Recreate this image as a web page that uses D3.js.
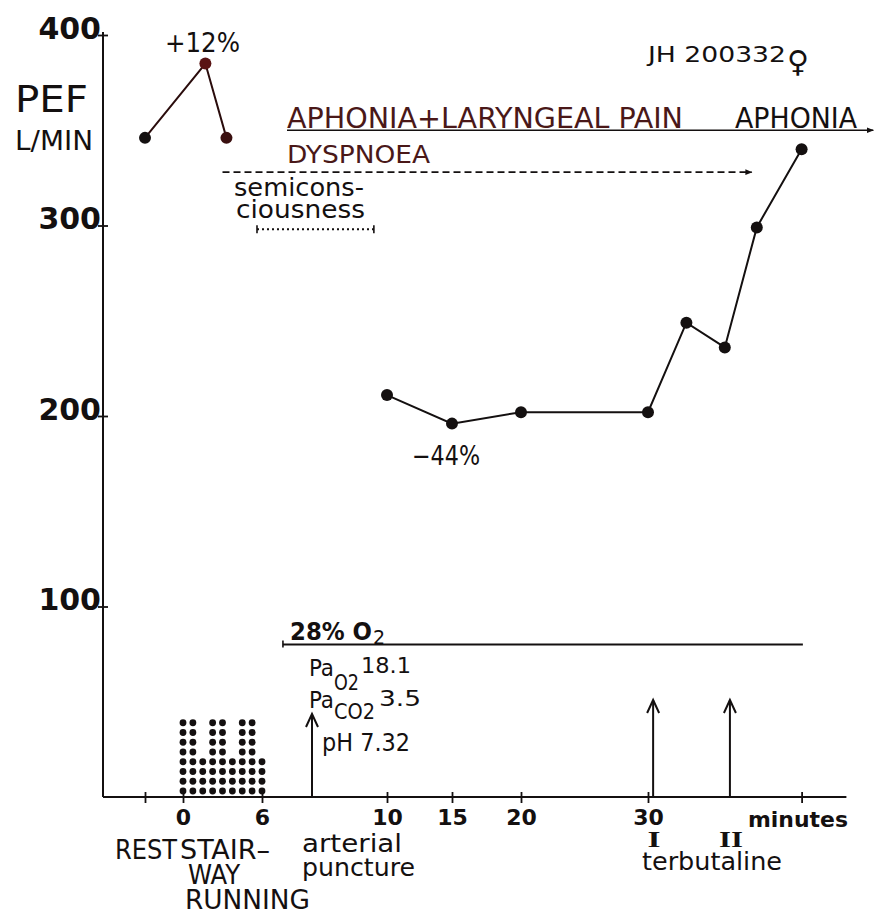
<!DOCTYPE html>
<html><head><meta charset="utf-8">
<script src="https://cdn.jsdelivr.net/npm/d3@7"></script>
<style>body{margin:0;background:#fff}svg{display:block}</style>
</head><body>
<script>
// ---------------- data ----------------
const preTimes = [-3, 1.7, 3.3];
const preValues = [346, 385, 346];
const postTimes = [10, 15, 20, 30, 33, 36, 38.5, 42];
const postValues = [211, 196, 202, 202, 249, 236, 299, 340];
const yTicks = [100, 200, 300, 400];
const xTicks = [-3, 0, 6, 10, 15, 20, 30, 42];
const xTickLabels = [0, 6, 10, 15, 20, 30];
const runTimes = [0, 0.75, 1.5, 2.25, 3, 3.75, 4.5, 5.25, 6];
const runHeights = [8, 8, 4, 8, 8, 4, 8, 8, 4];
const punctureTime = [7.6];
const terbutalineTimes = [30.4, 36.4];
const terbutalineLabels = ["I", "II"];
const bloodGasValues = ["18.1", "3.5", "7.32"];

// ---------------- setup ----------------
const W = 885, H = 917;
const FONT = "'DejaVu Sans Condensed','DejaVu Sans',sans-serif";
const FONTN = "'DejaVu Sans',sans-serif";
const INK = "#141010";
const RED = "#4a1818";
const svg = d3.select("body").append("svg").attr("width", W).attr("height", H);
svg.append("rect").attr("width", W).attr("height", H).attr("fill", "#fff");

const x = d3.scaleLinear().domain([-3, 0, 6, 10, 15, 20, 30, 45]).range([145, 183, 262, 387, 452, 521, 648, 840]);
const y = d3.scaleLinear().domain([0, 400]).range([797, 35]);

const defs = svg.append("defs");
defs.append("marker").attr("id", "ah").attr("viewBox", "0 0 10 10").attr("refX", 9).attr("refY", 5)
  .attr("markerWidth", 9).attr("markerHeight", 7).attr("markerUnits", "userSpaceOnUse").attr("orient", "auto")
  .append("path").attr("d", "M0,1 L10,5 L0,9 Z").attr("fill", INK);

function txt(s, x0, y0, size, o = {}) {
  const t = svg.append("text").attr("x", x0).attr("y", y0).attr("font-size", size)
    .attr("font-family", o.family || FONT).attr("font-weight", o.weight || "normal")
    .attr("fill", o.fill || INK).text(s);
  if (o.len) t.attr("textLength", o.len).attr("lengthAdjust", "spacingAndGlyphs");
  if (o.anchor) t.attr("text-anchor", o.anchor);
  return t;
}
// multi-part text: parts = [{s, x, y, size, len}]
function multi(parts, o = {}) {
  const t = svg.append("text").attr("font-family", o.family || FONT)
    .attr("font-weight", o.weight || "normal").attr("fill", o.fill || INK);
  parts.forEach(p => {
    const ts = t.append("tspan").attr("x", p.x).attr("y", p.y).attr("font-size", p.size).text(p.s);
    if (p.len) ts.attr("textLength", p.len).attr("lengthAdjust", "spacingAndGlyphs");
    if (p.weight) ts.attr("font-weight", p.weight);
  });
  return t;
}
function line(x1, y1, x2, y2, o = {}) {
  const l = svg.append("line").attr("x1", x1).attr("y1", y1).attr("x2", x2).attr("y2", y2)
    .attr("stroke", o.stroke || INK).attr("stroke-width", o.w || 2);
  if (o.dash) l.attr("stroke-dasharray", o.dash);
  if (o.marker) l.attr("marker-end", "url(#" + o.marker + ")");
  return l;
}
function upArrow(xp, ytop) {
  line(xp, y(0), xp, ytop, { w: 2 });
  svg.append("path").attr("d", `M${xp - 6},${ytop + 13} L${xp},${ytop} L${xp + 6},${ytop + 13}`)
    .attr("fill", "none").attr("stroke", INK).attr("stroke-width", 2);
}

// ---------------- axes ----------------
const gy = svg.append("g").attr("transform", "translate(103,0)")
  .call(d3.axisLeft(y).tickValues(yTicks).tickSize(5).tickPadding(3));
gy.select(".domain").remove();
gy.selectAll(".tick line").attr("x1", -5).attr("x2", 5).attr("stroke", INK).attr("stroke-width", 1.8);
gy.selectAll(".tick text").attr("x", -2).attr("dy", null).attr("y", 3)
  .attr("font-size", 30).attr("font-weight", "bold").attr("font-family", FONTN).attr("fill", INK);
line(103, 32, 103, y(0), { w: 2 });

const gx = svg.append("g").attr("transform", `translate(0,${y(0)})`)
  .call(d3.axisBottom(x).tickValues(xTicks).tickFormat(d => xTickLabels.includes(d) ? d : "").tickSize(6));
gx.select(".domain").remove();
gx.selectAll(".tick line").attr("y1", -5).attr("y2", 6).attr("stroke", INK).attr("stroke-width", 1.8);
gx.selectAll(".tick text").attr("y", 28).attr("dy", null)
  .attr("font-size", 22).attr("font-weight", "bold").attr("font-family", FONTN).attr("fill", INK);
line(103, y(0), x(45.5), y(0), { w: 2 });

// ---------------- data lines ----------------
const lineGen = d3.line().x(d => x(d[0])).y(d => y(d[1]));
const pre = preTimes.map((t, i) => [t, preValues[i]]);
const post = postTimes.map((t, i) => [t, postValues[i]]);
svg.append("path").attr("d", lineGen(pre)).attr("fill", "none").attr("stroke", "#2a0c0c").attr("stroke-width", 2);
svg.append("path").attr("d", lineGen(post)).attr("fill", "none").attr("stroke", INK).attr("stroke-width", 2);
svg.selectAll(".pre").data(pre).enter().append("circle")
  .attr("cx", d => x(d[0])).attr("cy", d => y(d[1])).attr("r", 6)
  .attr("fill", (d, i) => i === 1 ? "#5a1414" : (i === 2 ? "#3a0f0f" : INK));
svg.selectAll(".post").data(post).enter().append("circle")
  .attr("cx", d => x(d[0])).attr("cy", d => y(d[1])).attr("r", 6).attr("fill", INK);

// ---------------- stairway running dot matrix ----------------
runTimes.forEach((t, i) => {
  for (let k = 0; k < runHeights[i]; k++) {
    svg.append("circle").attr("cx", x(t)).attr("cy", y(0) - 6 - k * 9.75).attr("r", 3.4).attr("fill", INK);
  }
});

// ---------------- y label ----------------
txt("PEF", 15, 112, 37, { len: 73, family: FONTN });
txt("L/MIN", 15, 150, 27, { len: 78, family: FONTN });

// ---------------- annotations top ----------------
txt("+12%", 165, 52, 26, { len: 75 });
multi([{ s: "JH 200332", x: 648, y: 62, size: 22, len: 138 }, { s: "♀", x: 787, y: 72, size: 30 }], { family: FONTN });

txt("APHONIA+LARYNGEAL PAIN", 287, 128, 28, { len: 396, fill: RED });
txt("APHONIA", 735, 128, 28, { len: 122, fill: INK });
line(x(6.8), y(350), x(47.6), y(350), { w: 1.6, marker: "ah" });

txt("DYSPNOEA", 287, 163, 25, { len: 143, fill: RED });
line(x(3), y(328), x(38.1), y(328), { w: 1.6, dash: "7,4", marker: "ah" });

multi([{ s: "semicons-", x: 234, y: 196, size: 25, len: 130 }, { s: "ciousness", x: 236, y: 218, size: 25, len: 129 }]);
line(x(5.62), y(298), x(9.58), y(298), { w: 2, dash: "2,3" });
line(x(5.62), y(298) - 4, x(5.62), y(298) + 4, { w: 1.6 });
line(x(9.58), y(298) - 4, x(9.58), y(298) + 4, { w: 1.6 });

txt("−44%", 412, 465, 26, { len: 68 });

// ---------------- oxygen ----------------
line(x(6.67), y(80), x(42.1), y(80), { w: 2 });
line(x(6.67), y(80) - 4, x(6.67), y(80) + 3, { w: 1.6 });
multi([{ s: "28% O", x: 290, y: 640, size: 24, len: 82 }, { s: "2", x: 373, y: 644, size: 19, weight: "normal" }],
  { family: FONTN, weight: "bold" });

multi([
  { s: "Pa", x: 309, y: 676, size: 23, len: 25 },
  { s: "O2", x: 334, y: 690, size: 21, len: 25 },
  { s: bloodGasValues[0], x: 361, y: 673, size: 22, len: 50 },
  { s: "Pa", x: 309, y: 708, size: 23, len: 25 },
  { s: "CO2", x: 334, y: 719, size: 21, len: 41 },
  { s: bloodGasValues[1], x: 379, y: 706, size: 22, len: 42 },
  { s: "pH " + bloodGasValues[2], x: 322, y: 751, size: 25, len: 88 }
]);

// ---------------- arrows ----------------
punctureTime.forEach(t => upArrow(x(t), 714));
terbutalineTimes.forEach(t => upArrow(x(t), 700));

// ---------------- bottom labels ----------------
txt("minutes", 748, 827, 21, { len: 100, weight: "bold", family: FONTN });
terbutalineTimes.forEach((t, i) => txt(terbutalineLabels[i], x(t) + 1, 847, 23,
  { anchor: "middle", family: "'Liberation Serif',serif", weight: "bold", len: i === 0 ? 13 : 24 }));
txt("terbutaline", 642, 870, 24, { len: 140 });

txt("REST", 115, 859, 26, { len: 62 });
multi([
  { s: "STAIR–", x: 180, y: 859, size: 26, len: 90 },
  { s: "WAY", x: 188, y: 884, size: 26, len: 52 },
  { s: "RUNNING", x: 185, y: 909, size: 26, len: 125 }
]);
multi([
  { s: "arterial", x: 302, y: 852, size: 25, len: 100 },
  { s: "puncture", x: 302, y: 876, size: 25, len: 113 }
]);
</script>
</body></html>
